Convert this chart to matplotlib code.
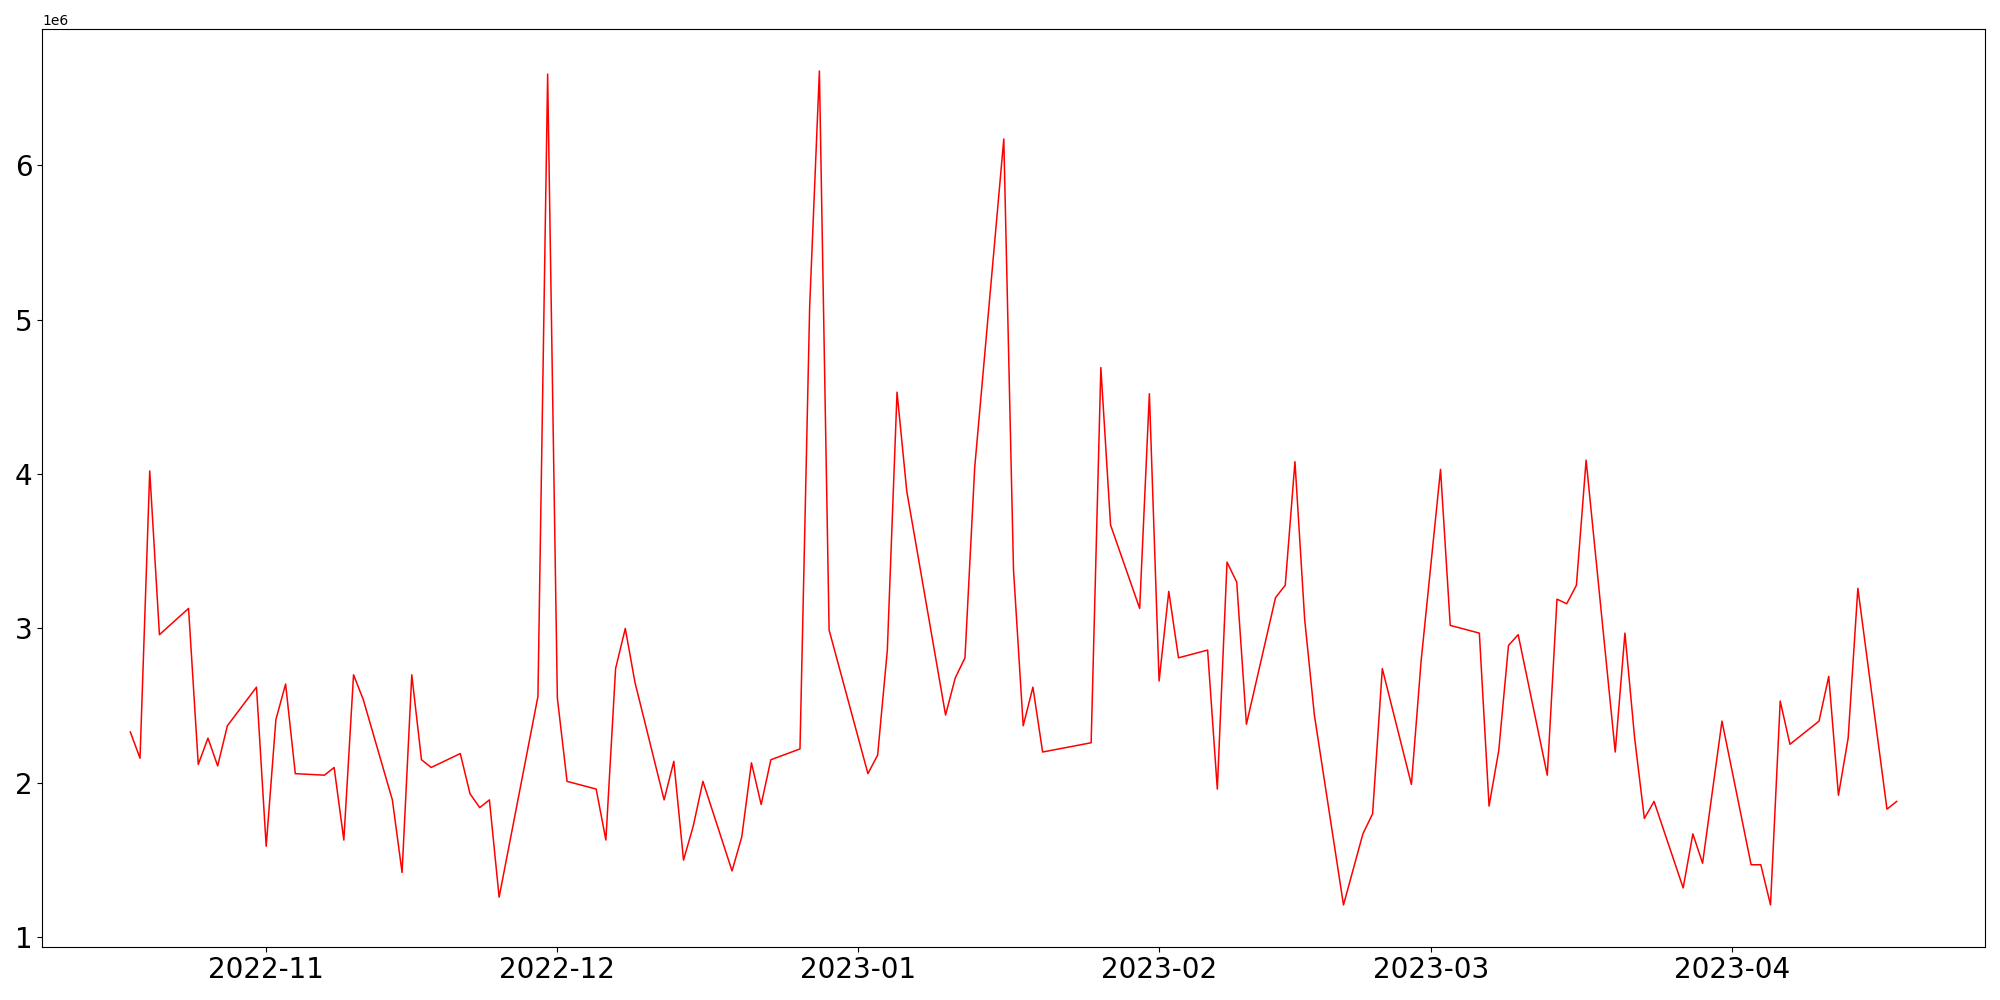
import matplotlib
matplotlib.use("Agg")
import matplotlib.pyplot as plt
import pandas as pd

# daily values (units of 1e6)
dates = [
    "2022-10-18", "2022-10-19", "2022-10-20", "2022-10-21", "2022-10-24",
    "2022-10-25", "2022-10-26", "2022-10-27", "2022-10-28", "2022-10-31",
    "2022-11-01", "2022-11-02", "2022-11-03", "2022-11-04", "2022-11-07",
    "2022-11-08", "2022-11-09", "2022-11-10", "2022-11-11", "2022-11-14",
    "2022-11-15", "2022-11-16", "2022-11-17", "2022-11-18", "2022-11-21",
    "2022-11-22", "2022-11-23", "2022-11-24", "2022-11-25", "2022-11-29",
    "2022-11-30",
    "2022-12-01", "2022-12-02", "2022-12-05", "2022-12-06", "2022-12-07",
    "2022-12-08", "2022-12-09", "2022-12-12", "2022-12-13", "2022-12-14",
    "2022-12-15", "2022-12-16", "2022-12-19", "2022-12-20", "2022-12-21",
    "2022-12-22", "2022-12-23", "2022-12-26", "2022-12-27", "2022-12-28",
    "2022-12-29",
    "2023-01-02", "2023-01-03", "2023-01-04", "2023-01-05", "2023-01-06",
    "2023-01-10", "2023-01-11", "2023-01-12", "2023-01-13", "2023-01-16",
    "2023-01-17", "2023-01-18", "2023-01-19", "2023-01-20", "2023-01-25",
    "2023-01-26", "2023-01-27", "2023-01-30", "2023-01-31",
    "2023-02-01", "2023-02-02", "2023-02-03", "2023-02-06", "2023-02-07",
    "2023-02-08", "2023-02-09", "2023-02-10", "2023-02-13", "2023-02-14",
    "2023-02-15", "2023-02-16", "2023-02-17", "2023-02-20", "2023-02-22",
    "2023-02-23", "2023-02-24", "2023-02-27", "2023-02-28",
    "2023-03-02", "2023-03-03", "2023-03-06", "2023-03-07", "2023-03-08",
    "2023-03-09", "2023-03-10", "2023-03-13", "2023-03-14", "2023-03-15",
    "2023-03-16", "2023-03-17", "2023-03-20", "2023-03-21", "2023-03-22",
    "2023-03-23", "2023-03-24", "2023-03-27", "2023-03-28", "2023-03-29",
    "2023-03-31",
    "2023-04-03", "2023-04-04", "2023-04-05", "2023-04-06", "2023-04-07",
    "2023-04-10", "2023-04-11", "2023-04-12", "2023-04-13", "2023-04-14",
    "2023-04-17", "2023-04-18",
]

values = [
    2.33, 2.16, 4.02, 2.96, 3.13, 2.12, 2.29, 2.11, 2.37, 2.62,
    1.59, 2.41, 2.64, 2.06, 2.05, 2.10, 1.63, 2.70, 2.54, 1.89,
    1.42, 2.70, 2.15, 2.10, 2.19, 1.93, 1.84, 1.89, 1.26, 2.56, 6.59,
    2.55, 2.01, 1.96, 1.63, 2.74, 3.00, 2.65, 1.89, 2.14, 1.50,
    1.72, 2.01, 1.43, 1.65, 2.13, 1.86, 2.15, 2.22, 5.09, 6.61, 2.99,
    2.06, 2.18, 2.86, 4.53, 3.89, 2.44, 2.68, 2.81, 4.04, 6.17,
    3.38, 2.37, 2.62, 2.20, 2.26, 4.69, 3.67, 3.13, 4.52,
    2.66, 3.24, 2.81, 2.86, 1.96, 3.43, 3.30, 2.38, 3.20, 3.28,
    4.08, 3.06, 2.44, 1.21, 1.67, 1.80, 2.74, 1.99, 2.79,
    4.03, 3.02, 2.97, 1.85, 2.21, 2.89, 2.96, 2.05, 3.19, 3.16,
    3.28, 4.09, 2.20, 2.97, 2.29, 1.77, 1.88, 1.32, 1.67, 1.48, 2.40,
    1.47, 1.47, 1.21, 2.53, 2.25, 2.40, 2.69, 1.92, 2.29, 3.26,
    1.83, 1.88,
]

x = pd.to_datetime(dates)
y = [v * 1e6 for v in values]

fig, ax = plt.subplots(figsize=(20, 10), dpi=100)
ax.plot(x, y, color="red", linewidth=1.1)
plt.xticks(fontsize=20)
plt.yticks(fontsize=20)
fig.subplots_adjust(left=0.021, right=0.9925, top=0.9707, bottom=0.0534)
plt.savefig("out.png")
